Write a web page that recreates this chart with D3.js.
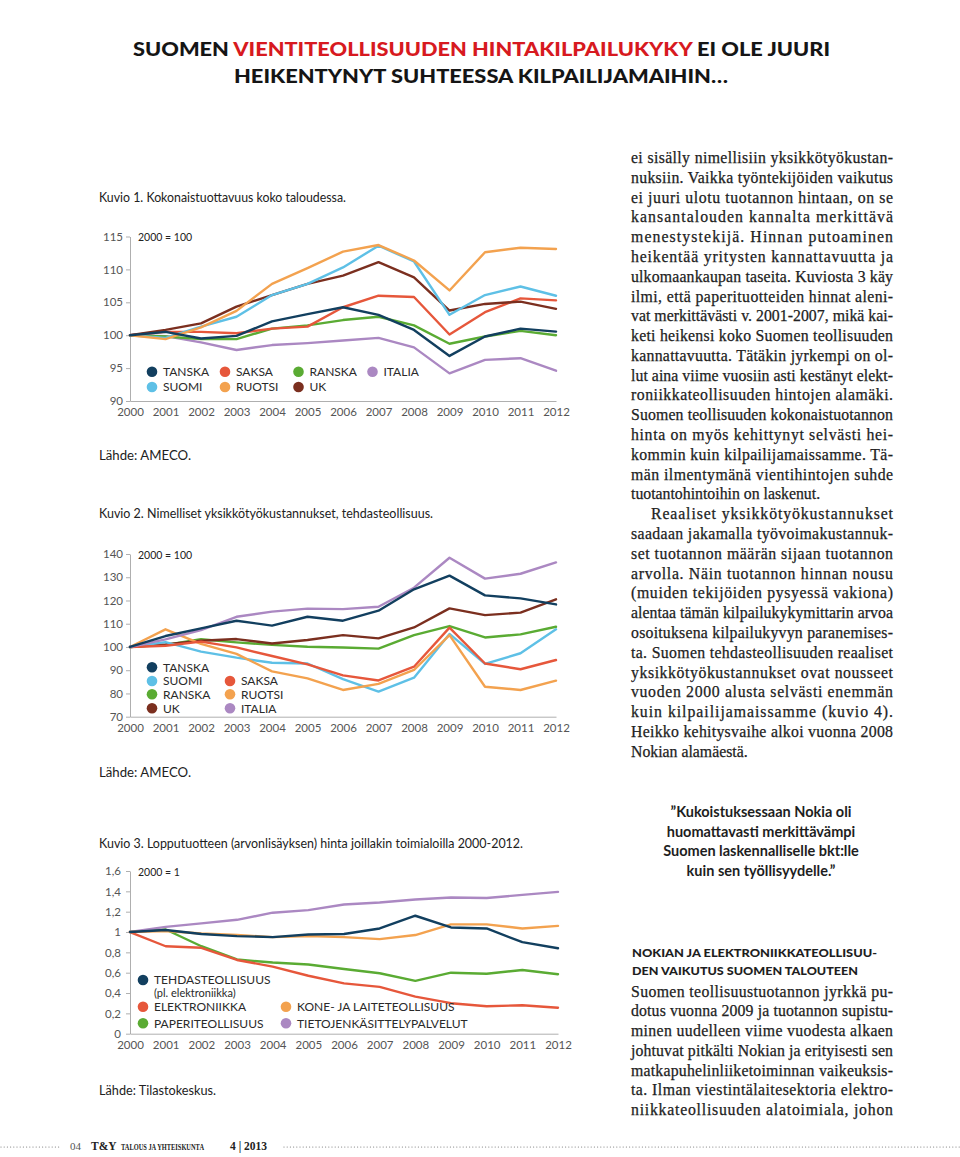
<!DOCTYPE html>
<html><head><meta charset="utf-8">
<script src="https://cdn.jsdelivr.net/npm/d3@7"></script>
<style>
body{margin:0;background:#fff;}
svg{display:block;}
</style></head><body>
<svg id="page" width="960" height="1157"></svg>
<script>
// ---------- DATA ----------
const years = [2000,2001,2002,2003,2004,2005,2006,2007,2008,2009,2010,2011,2012];

// Kuvio 1
const c1Ticks = [90,95,100,105,110,115];
const c1_TANSKA = [100,100.5,99.5,99.9,102.1,103.2,104.25,103.1,100.8,96.85,99.8,101,100.55];
const c1_SUOMI  = [100,99.6,101.3,102.8,106.1,107.8,110.3,113.6,111.2,103.1,106.1,107.4,106];
const c1_SAKSA  = [100,100.5,100.5,100.3,101,101.3,104.25,106,105.8,100.1,103.5,105.6,105.3];
const c1_RUOTSI = [100,99.4,101.2,103.7,107.8,110.2,112.7,113.7,111.35,106.8,112.6,113.3,113.1];
const c1_RANSKA = [100,99.8,99.4,99.4,101,101.5,102.3,102.8,101.5,98.7,99.8,100.65,100];
const c1_UK     = [100,100.8,101.8,104.35,106.1,107.8,109.05,111.1,108.8,103.75,104.75,105.1,104];
const c1_ITALIA = [100,99.85,98.9,97.75,98.5,98.8,99.2,99.6,98.15,94.2,96.25,96.5,94.6];

// Kuvio 2
const c2Ticks = [70,80,90,100,110,120,130,140];
const c2_TANSKA = [100,104.7,108,111.3,109.2,113,111.3,115.6,124.8,130.7,122.2,120.9,118.3];
const c2_SUOMI  = [100,102.1,98,95.4,93.2,92.9,86.2,80.8,86.8,105.6,92.7,97.3,107.6];
const c2_RANSKA = [100,100.9,103.3,102,100.9,100.1,99.8,99.3,105.1,109,104.1,105.4,108.7];
const c2_UK     = [100,101.1,102.7,103.4,101.5,103,105.1,103.7,108.4,116.6,113.7,114.8,120.5];
const c2_SAKSA  = [100,100.5,102.3,99.8,96.1,92.5,87.8,85.6,91.5,108.3,92.9,90.4,94.4];
const c2_RUOTSI = [100,107.6,101.3,97,89.5,86.5,81.5,84.1,90.1,105.1,82.9,81.5,85.5];
const c2_ITALIA = [100,103.3,107.3,113,115.2,116.5,116.3,117.3,125.5,138.4,129.4,131.5,136.4];

// Kuvio 3
const c3Ticks = [0,0.2,0.4,0.6,0.8,1,1.2,1.4,1.6];
const c3_TEHDAS = [1,1.02,0.98,0.96,0.95,0.975,0.98,1.035,1.16,1.045,1.035,0.9,0.84];
const c3_ELEKTR = [1,0.86,0.845,0.725,0.66,0.57,0.495,0.46,0.365,0.3,0.27,0.28,0.255];
const c3_PAPERI = [1,1.025,0.86,0.73,0.7,0.68,0.636,0.594,0.52,0.6,0.59,0.626,0.585];
const c3_KONE   = [1,1.01,0.985,0.97,0.95,0.96,0.95,0.93,0.97,1.075,1.075,1.035,1.06];
const c3_TIETO  = [1,1.05,1.085,1.12,1.19,1.215,1.27,1.29,1.32,1.34,1.335,1.365,1.395];

// ---------- STYLE ----------
const COL = {
  navy:"#123f5f", blue:"#5ec0e6", red:"#e6573b", orange:"#f3a24f",
  green:"#5aab33", brown:"#7b2f1f", purple:"#ab88c2"
};
const SANS = "Lato, 'Open Sans', sans-serif";
const SERIF = "'Liberation Serif', 'DejaVu Serif', serif";

const svg = d3.select("#page");

// ---------- TITLE ----------
const t1 = svg.append("text").attr("x",133).attr("y",56)
  .attr("font-family",SANS).attr("font-weight",900).attr("font-size",19)
  .attr("textLength",697).attr("lengthAdjust","spacingAndGlyphs");
t1.append("tspan").attr("fill","#151515").text("SUOMEN ");
t1.append("tspan").attr("fill","#d71920").text("VIENTITEOLLISUUDEN HINTAKILPAILUKYKY");
t1.append("tspan").attr("fill","#151515").text(" EI OLE JUURI");
svg.append("text").attr("x",234).attr("y",83)
  .attr("font-family",SANS).attr("font-weight",900).attr("font-size",19)
  .attr("fill","#151515")
  .attr("textLength",494).attr("lengthAdjust","spacingAndGlyphs")
  .text("HEIKENTYNYT SUHTEESSA KILPAILIJAMAIHIN…");

// ---------- CAPTIONS ----------
function caption(x,y,txt,w){
  const t = svg.append("text").attr("x",x).attr("y",y)
    .attr("font-family",SANS).attr("font-size",12.5).attr("fill","#222").text(txt);
  if(w) t.attr("textLength",w).attr("lengthAdjust","spacingAndGlyphs");
}
caption(99,201.5,"Kuvio 1. Kokonaistuottavuus koko taloudessa.",247);
caption(99,460,"Lähde: AMECO.",92);
caption(99,518,"Kuvio 2.  Nimelliset yksikkötyökustannukset, tehdasteollisuus.",334);
caption(99,777,"Lähde: AMECO.",92);
caption(99,848,"Kuvio 3. Lopputuotteen (arvonlisäyksen) hinta joillakin toimialoilla 2000-2012.",424);
caption(99,1095,"Lähde: Tilastokeskus.",117);

// ---------- CHART FUNCTION ----------
function chart(cfg){
  const x = d3.scaleLinear().domain([years[0],years[years.length-1]]).range([cfg.x0,cfg.x1]);
  const y = d3.scaleLinear().domain([cfg.ticks[0],cfg.ticks[cfg.ticks.length-1]]).range([cfg.yb,cfg.yt]);
  const g = svg.append("g");

  const ya = g.append("g").attr("transform",`translate(${cfg.x0},0)`)
    .call(d3.axisLeft(y).tickValues(cfg.ticks).tickFormat(cfg.fmt).tickSize(4).tickSizeOuter(0).tickPadding(cfg.ypad));
  ya.selectAll("path,line").attr("stroke","#9a9a9a").attr("stroke-width",0.8);
  ya.selectAll("text").attr("font-family",SANS).attr("font-size",11.5).attr("fill","#555");

  const xa = g.append("g").attr("transform",`translate(0,${cfg.yb})`)
    .call(d3.axisBottom(x).tickValues(years).tickFormat(d3.format("d")).tickSize(0).tickSizeOuter(0).tickPadding(cfg.xpad));
  xa.select("path").attr("stroke","#9a9a9a").attr("stroke-width",0.8);
  xa.selectAll("text").attr("font-family",SANS).attr("font-size",11.5).attr("fill","#555");

  g.append("text").attr("x",cfg.x0+8).attr("y",cfg.yt+4.5)
    .attr("font-family",SANS).attr("font-size",10.5).attr("fill","#222").text(cfg.base);

  const line = d3.line().x((d,i)=>x(years[i])).y(d=>y(d));
  g.selectAll("path.s").data(cfg.series).join("path").attr("class","s")
    .attr("d",d=>line(d.v)).attr("fill","none").attr("stroke",d=>d.c)
    .attr("stroke-width",2.4).attr("stroke-linejoin","round").attr("stroke-linecap","round");

  const lg = g.append("g");
  cfg.legend.forEach(it=>{
    if(it.c){
      lg.append("circle").attr("cx",it.x).attr("cy",it.y).attr("r",5.3).attr("fill",it.c);
    }
    lg.append("text").attr("x",it.x+11).attr("y",it.y+4.2)
      .attr("font-family",SANS).attr("font-size",it.small?11:12).attr("fill","#2a2a2a").text(it.t);
  });
}

const S = (n,v,c)=>({n,v,c});

chart({
  x0:130,x1:556,yt:236.5,yb:401,ticks:c1Ticks,fmt:d3.format("d"),ypad:3,xpad:7,base:"2000 = 100",
  series:[S("ITALIA",c1_ITALIA,COL.purple),S("RANSKA",c1_RANSKA,COL.green),S("SAKSA",c1_SAKSA,COL.red),
          S("UK",c1_UK,COL.brown),S("SUOMI",c1_SUOMI,COL.blue),S("RUOTSI",c1_RUOTSI,COL.orange),S("TANSKA",c1_TANSKA,COL.navy)],
  legend:[
    {x:152,y:371.7,t:"TANSKA",c:COL.navy},{x:225,y:371.7,t:"SAKSA",c:COL.red},
    {x:298.5,y:371.7,t:"RANSKA",c:COL.green},{x:372.5,y:371.7,t:"ITALIA",c:COL.purple},
    {x:152,y:387,t:"SUOMI",c:COL.blue},{x:225,y:387,t:"RUOTSI",c:COL.orange},
    {x:298.5,y:387,t:"UK",c:COL.brown}
  ]
});

chart({
  x0:130,x1:556,yt:554,yb:716.7,ticks:c2Ticks,fmt:d3.format("d"),ypad:3,xpad:7,base:"2000 = 100",
  series:[S("RANSKA",c2_RANSKA,COL.green),S("UK",c2_UK,COL.brown),S("SUOMI",c2_SUOMI,COL.blue),
          S("RUOTSI",c2_RUOTSI,COL.orange),S("SAKSA",c2_SAKSA,COL.red),S("ITALIA",c2_ITALIA,COL.purple),S("TANSKA",c2_TANSKA,COL.navy)],
  legend:[
    {x:152,y:667.3,t:"TANSKA",c:COL.navy},{x:152,y:681,t:"SUOMI",c:COL.blue},
    {x:152,y:694.3,t:"RANSKA",c:COL.green},{x:152,y:708.3,t:"UK",c:COL.brown},
    {x:230,y:681,t:"SAKSA",c:COL.red},{x:230,y:694.3,t:"RUOTSI",c:COL.orange},
    {x:230,y:708.3,t:"ITALIA",c:COL.purple}
  ]
});

const fmt3 = d => d===0 ? "0" : (d===1 ? "1" : d.toFixed(1).replace(".",","));
chart({
  x0:130,x1:558,yt:871,yb:1033.7,ticks:c3Ticks,fmt:fmt3,ypad:5,xpad:7,base:"2000 = 1",
  series:[S("PAPERI",c3_PAPERI,COL.green),S("ELEKTR",c3_ELEKTR,COL.red),S("TIETO",c3_TIETO,COL.purple),
          S("KONE",c3_KONE,COL.orange),S("TEHDAS",c3_TEHDAS,COL.navy)],
  legend:[
    {x:143,y:980,t:"TEHDASTEOLLISUUS",c:COL.navy},
    {x:143,y:992.7,t:"(pl. elektroniikka)",small:true},
    {x:143,y:1006.7,t:"ELEKTRONIIKKA",c:COL.red},
    {x:143,y:1023.3,t:"PAPERITEOLLISUUS",c:COL.green},
    {x:286,y:1006.7,t:"KONE- JA LAITETEOLLISUUS",c:COL.orange},
    {x:286,y:1023.3,t:"TIETOJENKÄSITTELYPALVELUT",c:COL.purple}
  ]
});

// ---------- RIGHT COLUMN TEXT ----------
const body1 = [
  ["ei sisälly nimellisiin yksikkötyökustan-",0,1],
  ["nuksiin. Vaikka työntekijöiden vaikutus",0,1],
  ["ei juuri ulotu tuotannon hintaan, on se",0,1],
  ["kansantalouden kannalta merkittävä",0,1],
  ["menestystekijä. Hinnan putoaminen",0,1],
  ["heikentää yritysten kannattavuutta ja",0,1],
  ["ulkomaankaupan taseita. Kuviosta 3 käy",0,1],
  ["ilmi, että paperituotteiden hinnat aleni-",0,1],
  ["vat merkittävästi v. 2001-2007, mikä kai-",0,1],
  ["keti heikensi koko Suomen teollisuuden",0,1],
  ["kannattavuutta. Tätäkin jyrkempi on ol-",0,1],
  ["lut aina viime vuosiin asti kestänyt elekt-",0,1],
  ["roniikkateollisuuden hintojen alamäki.",0,1],
  ["Suomen teollisuuden kokonaistuotannon",0,1],
  ["hinta on myös kehittynyt selvästi hei-",0,1],
  ["kommin kuin kilpailijamaissamme. Tä-",0,1],
  ["män ilmentymänä vientihintojen suhde",0,1],
  ["tuotantohintoihin on laskenut.",0,0],
  ["Reaaliset yksikkötyökustannukset",20,1],
  ["saadaan jakamalla työvoimakustannuk-",0,1],
  ["set tuotannon määrän sijaan tuotannon",0,1],
  ["arvolla. Näin tuotannon hinnan nousu",0,1],
  ["(muiden tekijöiden pysyessä vakiona)",0,1],
  ["alentaa tämän kilpailukykymittarin arvoa",0,1],
  ["osoituksena kilpailukyvyn paranemises-",0,1],
  ["ta. Suomen tehdasteollisuuden reaaliset",0,1],
  ["yksikkötyökustannukset ovat nousseet",0,1],
  ["vuoden 2000 alusta selvästi enemmän",0,1],
  ["kuin kilpailijamaissamme (kuvio 4).",0,1],
  ["Heikko kehitysvaihe alkoi vuonna 2008",0,1],
  ["Nokian alamäestä.",0,0]
];
const body2 = [
  ["Suomen teollisuustuotannon jyrkkä pu-",0,1],
  ["dotus vuonna 2009 ja tuotannon supistu-",0,1],
  ["minen uudelleen viime vuodesta alkaen",0,1],
  ["johtuvat pitkälti Nokian ja erityisesti sen",0,1],
  ["matkapuhelinliiketoiminnan vaikeuksis-",0,1],
  ["ta. Ilman viestintälaitesektoria elektro-",0,1],
  ["niikkateollisuuden alatoimiala, johon",0,1]
];
const COLX0 = 631, COLX1 = 893;
function bodyText(lines,y0,lh){
  lines.forEach((l,i)=>{
    const x = COLX0 + l[1];
    const t = svg.append("text").attr("x",x).attr("y",y0+i*lh)
      .attr("font-family",SERIF).attr("font-size",15.8).attr("fill","#222")
      .attr("stroke","#222").attr("stroke-width",0.25).text(l[0]);
    if(l[2]){
      const w = COLX1 - x;
      const nat = t.node().getComputedTextLength();
      t.attr("textLength",w).attr("lengthAdjust", nat>w ? "spacingAndGlyphs" : "spacing");
    }
  });
}
bodyText(body1,163,19.79);
bodyText(body2,996.7,19.72);

// quote
const quote = ["”Kukoistuksessaan Nokia oli","huomattavasti merkittävämpi","Suomen laskennalliselle bkt:lle","kuin sen työllisyydelle.”"];
quote.forEach((q,i)=>{
  svg.append("text").attr("x",761).attr("y",817+i*19.7).attr("text-anchor","middle")
    .attr("font-family",SANS).attr("font-weight",700).attr("font-size",14.5).attr("fill","#1e1e1e").text(q);
});

// heading
[["NOKIAN JA ELEKTRONIIKKATEOLLISUU-",956.7,245],["DEN VAIKUTUS SUOMEN TALOUTEEN",975,226]].forEach(h=>{
  svg.append("text").attr("x",632).attr("y",h[1])
    .attr("font-family",SANS).attr("font-weight",900).attr("font-size",11.2).attr("fill","#1e1e1e")
    .attr("textLength",h[2]).attr("lengthAdjust","spacingAndGlyphs").text(h[0]);
});

// ---------- FOOTER ----------
const fy = 1150;
const dots = svg.append("g").attr("fill","#777");
for(let xx=1; xx<60; xx+=3.2) dots.append("circle").attr("cx",xx).attr("cy",fy-3).attr("r",0.6);
for(let xx=284; xx<960; xx+=3.2) dots.append("circle").attr("cx",xx).attr("cy",fy-3).attr("r",0.6);
svg.append("text").attr("x",70).attr("y",fy).attr("font-family",SERIF).attr("font-size",11).attr("fill","#555").text("04");
svg.append("text").attr("x",91).attr("y",fy).attr("font-family",SERIF).attr("font-weight",700).attr("font-size",11.5).attr("fill","#222").text("T&Y");
svg.append("text").attr("x",121).attr("y",fy).attr("font-family",SERIF).attr("font-weight",700).attr("font-size",8.5).attr("fill","#222")
  .attr("textLength",83).attr("lengthAdjust","spacingAndGlyphs").text("TALOUS JA YHTEISKUNTA");
svg.append("text").attr("x",230).attr("y",fy).attr("font-family",SERIF).attr("font-weight",700).attr("font-size",11.5).attr("fill","#222").text("4 | 2013");
</script>
</body></html>
